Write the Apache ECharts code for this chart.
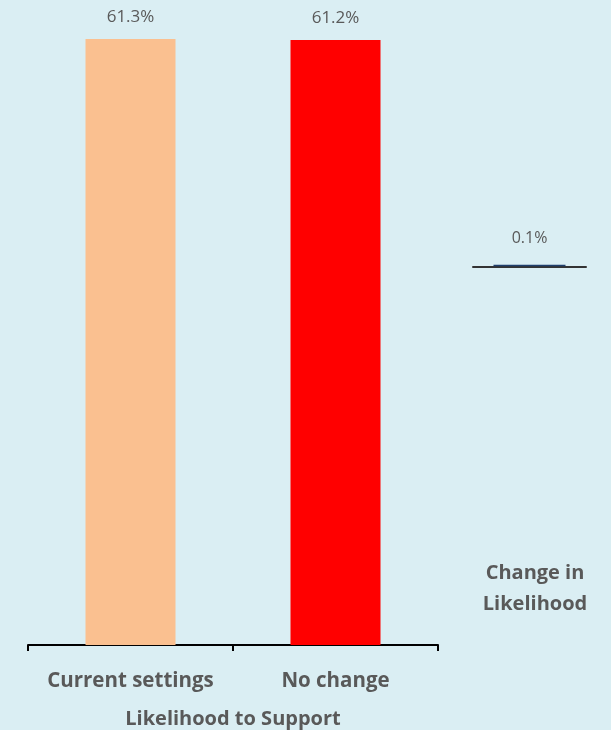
<!DOCTYPE html>
<html>
<head>
<meta charset="utf-8">
<script src="https://cdn.jsdelivr.net/npm/echarts@6/dist/echarts.min.js"></script>
<style>
  html, body { margin: 0; padding: 0; background: #DAEEF3; }
  #chart { width: 611px; height: 730px; }
</style>
</head>
<body>
<div id="chart"></div>
<script>
const categories = ['Current settings', 'No change']
const supportValues = [61.3, 61.2]
const barColors = ['#FAC090', '#FF0000']
const changeCategories = ['Change']
const changeValues = [0.1]

const mychart = echarts.init(document.getElementById('chart'))
const textGray = '#595959'
const font = 'Open Sans'

mychart.setOption({
    backgroundColor: '#DAEEF3',
    animation: false,
    textStyle: { fontFamily: font },
    title: {
        text: 'Change in\nLikelihood',
        left: 530,
        top: 553,
        textAlign: 'center',
        textStyle: { fontFamily: font, fontSize: 20, fontWeight: 'bold', color: textGray, lineHeight: 31 },
    },
    grid: [
        { left: 28, right: 173, top: 39, bottom: 85, outerBoundsMode: 'none' },
        { left: 473, right: 25, top: 39, bottom: 85, outerBoundsMode: 'none' },
    ],
    xAxis: [{
        type: 'category',
        gridIndex: 0,
        data: categories,
        name: 'Likelihood to Support',
        nameLocation: 'middle',
        nameGap: 64,
        nameTextStyle: { fontFamily: font, fontSize: 20, fontWeight: 'bold', color: textGray },
        axisLine: { lineStyle: { color: '#000', width: 2 } },
        axisTick: { show: true, interval: 0, length: 6, lineStyle: { color: '#000', width: 2 } },
        axisLabel: { interval: 0, margin: 26, fontFamily: font, fontSize: 20.5, fontWeight: 'bold', color: textGray },
    }, {
        type: 'category',
        gridIndex: 1,
        data: changeCategories,
        axisLine: { onZero: true, lineStyle: { color: '#333', width: 2 } },
        axisTick: { show: false },
        axisLabel: { show: false },
    }],
    yAxis: [{
        type: 'value',
        gridIndex: 0,
        min: 0,
        max: 61.3,
        show: false,
    }, {
        type: 'value',
        gridIndex: 1,
        min: -25,
        max: 15,
        show: false,
    }],
    series: [{
        type: 'bar',
        xAxisIndex: 0,
        yAxisIndex: 0,
        barWidth: 90,
        data: supportValues.map((v, i) => ({ value: v, itemStyle: { color: barColors[i] } })),
        label: {
            show: true,
            position: 'top',
            distance: 13,
            formatter: p => p.value.toFixed(1) + '%',
            fontFamily: font,
            fontSize: 17,
            color: textGray,
        },
    }, {
        type: 'bar',
        xAxisIndex: 1,
        yAxisIndex: 1,
        barWidth: 72,
        data: changeValues,
        itemStyle: { color: '#1F3F6D' },
        label: {
            show: true,
            position: 'top',
            distance: 18,
            formatter: p => p.value.toFixed(1) + '%',
            fontFamily: font,
            fontSize: 16,
            color: textGray,
        },
    }],
})
</script>
</body>
</html>
